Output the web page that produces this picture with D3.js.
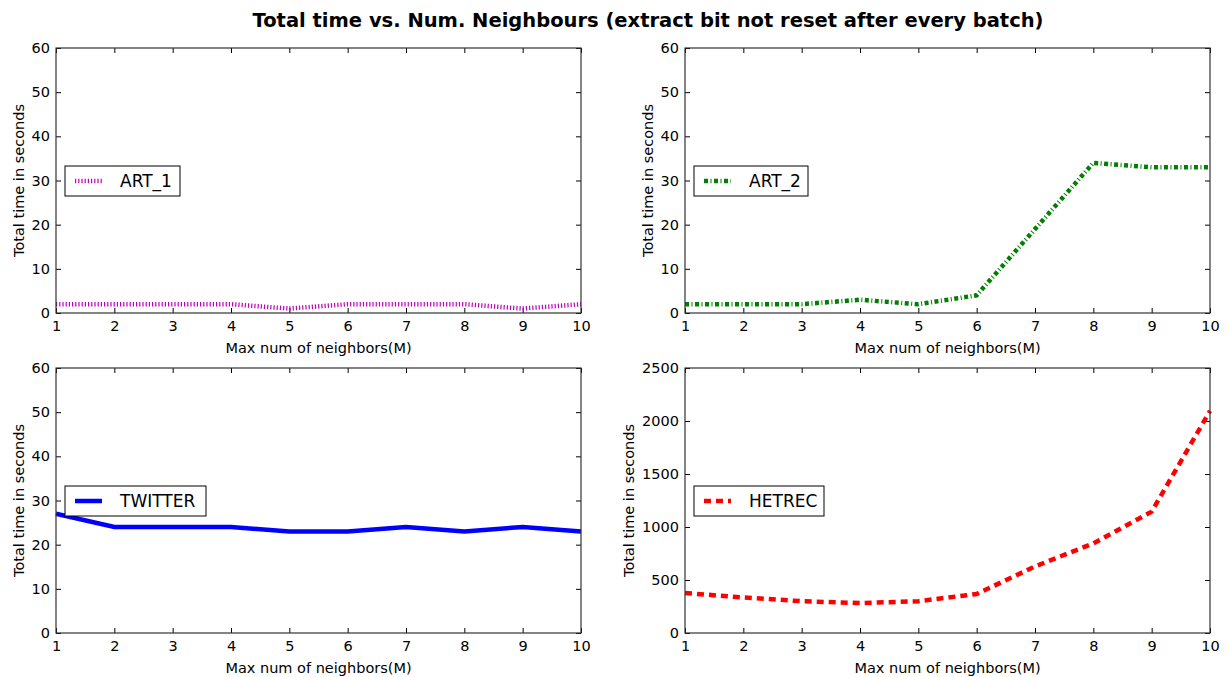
<!DOCTYPE html>
<html>
<head>
<meta charset="utf-8">
<script src="https://cdn.jsdelivr.net/npm/d3@7"></script>
<style>
  body { margin: 0; background: #fff; }
  text { font-family: "DejaVu Sans", sans-serif; fill: #000; }
</style>
</head>
<body>
<div id="chart-area"></div>
<script>
// neighbours on the x axis, same for every panel
let neighbors = [1, 2, 3, 4, 5, 6, 7, 8, 9, 10];

let art1 = [2, 2, 2, 2, 1, 2, 2, 2, 1, 2];
let art2 = [2, 2, 2, 3, 2, 4, 19, 34, 33, 33];
let twitter = [27, 24, 24, 24, 23, 23, 24, 23, 24, 23];
let hetrec = [377, 335, 300, 282, 300, 368, 628, 845, 1145, 2095];

let smallTicks = [0, 10, 20, 30, 40, 50, 60];
let bigTicks = [0, 500, 1000, 1500, 2000, 2500];

let width = 1228, height = 677;
let svg = d3.select("#chart-area").append("svg").attr("width", width).attr("height", height);

svg.append("text")
  .attr("x", 648).attr("y", 27)
  .attr("text-anchor", "middle")
  .style("font-size", "19.5px").style("font-weight", "bold")
  .text("Total time vs. Num. Neighbours (extract bit not reset after every batch)");

let panels = [
  { name: "ART_1", values: art1, ticks: smallTicks, left: 56, top: 48, color: "#bf00bf", dash: "1.2,2", lw: 4.5, boxW: 115 },
  { name: "ART_2", values: art2, ticks: smallTicks, left: 685, top: 48, color: "#007f00", dash: "4,2.5,1,2.5", lw: 4.5, boxW: 114 },
  { name: "TWITTER", values: twitter, ticks: smallTicks, left: 56, top: 368, color: "#0000ff", dash: null, lw: 4.5, boxW: 141 },
  { name: "HETREC", values: hetrec, ticks: bigTicks, left: 685, top: 368, color: "#ff0000", dash: "7,5", lw: 4.5, boxW: 130 }
];

let pw = 525, ph = 265;

panels.forEach(p => {
  let g = svg.append("g").attr("transform", `translate(${p.left},${p.top})`);

  let x = d3.scaleLinear().domain([1, 10]).range([0, pw]);
  let y = d3.scaleLinear().domain([0, d3.max(p.ticks)]).range([ph, 0]);

  // ticks pointing inward on all four sides
  let tickStyle = sel => {
    sel.select(".domain").remove();
    sel.selectAll("line").attr("stroke", "#000");
    sel.selectAll("text").style("font-size", "14.5px");
  };

  g.append("g").attr("transform", `translate(0,${ph})`)
    .call(d3.axisBottom(x).tickValues(neighbors).tickSize(-5).tickPadding(8).tickFormat(d3.format("d")))
    .call(tickStyle);
  g.append("g")
    .call(d3.axisTop(x).tickValues(neighbors).tickSize(-5).tickFormat(""))
    .call(tickStyle);
  g.append("g")
    .call(d3.axisLeft(y).tickValues(p.ticks).tickSize(-5).tickPadding(6).tickFormat(d3.format("d")))
    .call(tickStyle);
  g.append("g").attr("transform", `translate(${pw},0)`)
    .call(d3.axisRight(y).tickValues(p.ticks).tickSize(-5).tickFormat(""))
    .call(tickStyle);

  g.selectAll(".tick text").attr("fill", "#000");

  let line = d3.line().x((d, i) => x(neighbors[i])).y(d => y(d));

  g.append("path")
    .datum(p.values)
    .attr("d", line)
    .attr("fill", "none")
    .attr("stroke", p.color)
    .attr("stroke-width", p.lw)
    .attr("stroke-dasharray", p.dash);

  g.append("rect")
    .attr("width", pw).attr("height", ph)
    .attr("fill", "none").attr("stroke", "#333").attr("stroke-width", 1.2);

  // legend
  let lg = g.append("g").attr("transform", `translate(9,${ph / 2 - 15 + 0.5})`);
  lg.append("rect")
    .attr("width", p.boxW).attr("height", 30)
    .attr("fill", "#fff").attr("stroke", "#000").attr("stroke-width", 1);
  lg.append("line")
    .attr("x1", 10).attr("x2", 37).attr("y1", 15).attr("y2", 15)
    .attr("stroke", p.color).attr("stroke-width", p.lw)
    .attr("stroke-dasharray", p.dash);
  lg.append("text")
    .attr("x", 55).attr("y", 21)
    .style("font-size", "17px")
    .text(p.name);

  g.append("text")
    .attr("x", pw / 2).attr("y", ph + 40)
    .attr("text-anchor", "middle")
    .style("font-size", "14.5px")
    .text("Max num of neighbors(M)");

  g.append("text")
    .attr("transform", `translate(${p.ticks === bigTicks ? -51 : -32},${ph / 2}) rotate(-90)`)
    .attr("text-anchor", "middle")
    .style("font-size", "14.5px")
    .text("Total time in seconds");
});
</script>
</body>
</html>
